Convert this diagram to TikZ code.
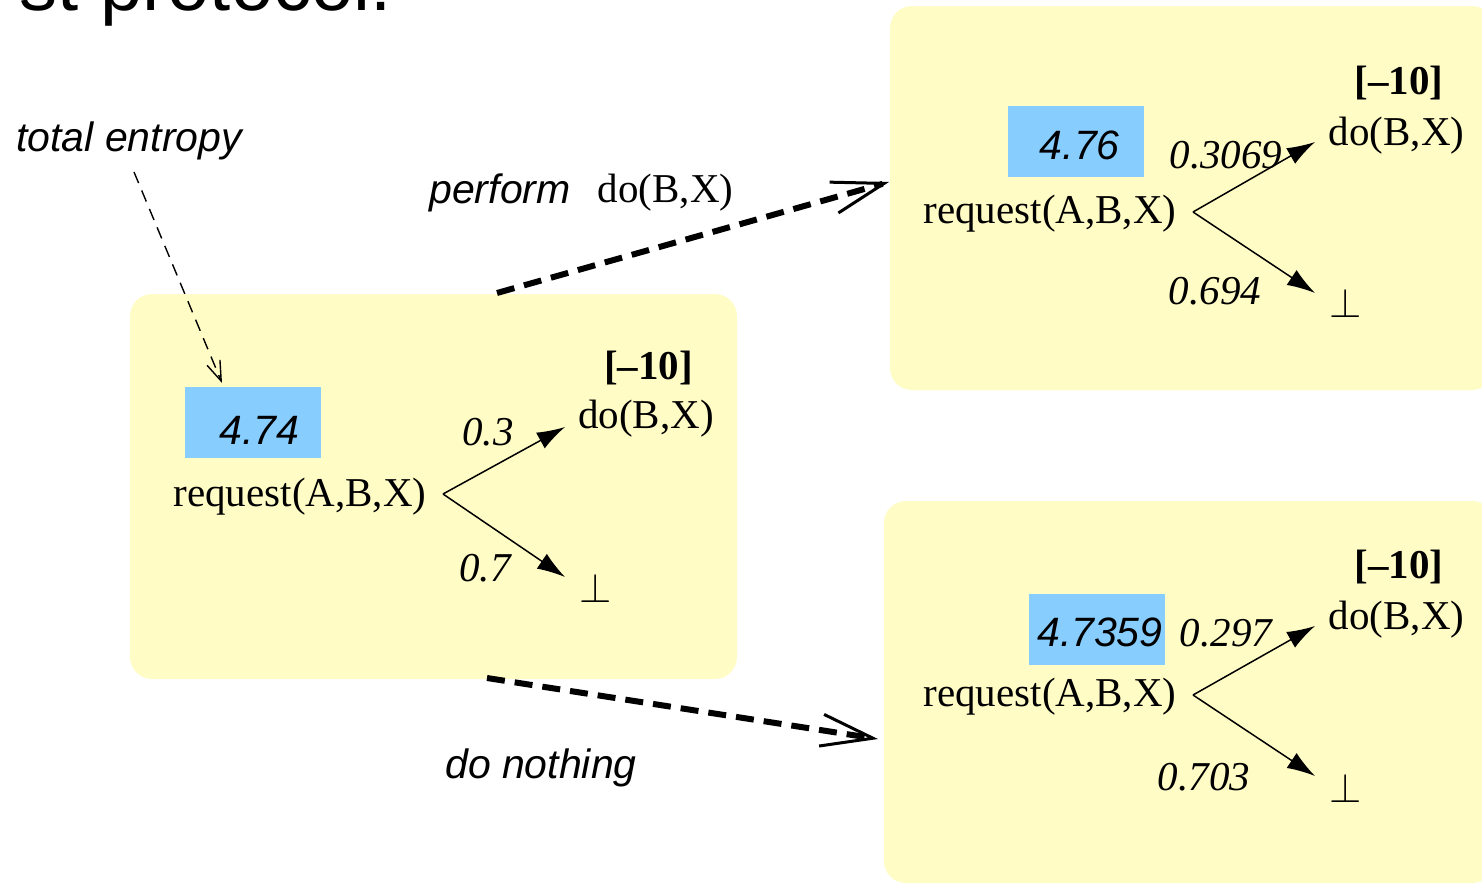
\documentclass[tikz,border=0pt]{standalone}
\usepackage{fontspec}
\setmainfont{Liberation Serif}
\setsansfont{Liberation Sans}
\usetikzlibrary{arrows.meta}
\definecolor{boxyellow}{RGB}{255,252,198}
\definecolor{valblue}{RGB}{135,206,255}
\tikzset{
  every node/.style={inner sep=0pt, font=\fontsize{20.5}{24}\selectfont},
  yellowbox/.style={fill=boxyellow, rounded corners=11pt},
  valbox/.style={fill=valblue, minimum width=68pt, minimum height=35.5pt},
  valtext/.style={font=\fontsize{20.5}{24}\selectfont\sffamily\itshape},
  prob/.style={font=\fontsize{20.5}{24}\selectfont\itshape},
  penalty/.style={font=\fontsize{20.5}{24}\selectfont\bfseries},
  branch/.style={line width=0.75pt, -{Latex[length=14pt,width=9pt]}},
  move/.style={line width=3pt, dash pattern=on 9pt off 5pt, -{Straight Barb[length=26pt,width=16pt,line width=1.5pt]}},
  note/.style={line width=0.7pt, dash pattern=on 6pt off 4pt, -{Straight Barb[length=10pt,width=7pt,line width=0.7pt]}},
  label/.style={font=\fontsize{20.5}{24}\selectfont\sffamily\itshape},
}
\begin{document}
\begin{tikzpicture}[x=0.5pt,y=-0.5pt]
\useasboundingbox (0,0) rectangle (1482,884);
\clip (0,0) rectangle (1482,884);

% title remnant (cut off at the top edge, as in the reference)
\node[anchor=base east, font=\fontsize{38}{40}\selectfont\sffamily] (title) at (392,10) {st protocol.};

% yellow boxes
\node[yellowbox, minimum width=303.5pt, minimum height=192.5pt] (L) at (433.5,486.5) {};
\node[yellowbox, minimum width=302pt, minimum height=192pt] (TR) at (1192,198) {};
\node[yellowbox, minimum width=305pt, minimum height=191pt] (BR) at (1189,692) {};

% value boxes
\node[valbox] (vb1) at (253,422) {};
\node[valbox] (vb2) at (1076,141.5) {};
\node[valbox] (vb3) at (1097,629.5) {};
\node[valtext, anchor=east] (v1t) at (300,430) {4.74};
\node[valtext, anchor=east] (v2t) at (1120,145) {4.76};
\node[valtext, anchor=east] (v3t) at (1163,632) {4.7359};

% left tree
\node (req1) at (300,497) {request(A,B,X)};
\node[penalty] (pen1) at (648.5,368) {[–10]};
\node (do1) at (646,419) {do(B,X)};
\node[prob] (p1a) at (488,432) {0.3};
\node[prob] (p1b) at (485,568) {0.7};
\node (bot1) at (596,588) {$\perp$};
\coordinate (v1) at (443,494);
\coordinate (t1a) at (565,427);
\coordinate (t1b) at (565,577);
\draw[branch] (v1) -- (t1a);
\draw[branch] (v1) -- (t1b);

% top-right tree
\node (req2) at (1050,214) {request(A,B,X)};
\node[penalty] (pen2) at (1399,83) {[–10]};
\node (do2) at (1396.5,136) {do(B,X)};
\node[prob] (p2a) at (1226,155) {0.3069};
\node[prob] (p2b) at (1215,291) {0.694};
\node (bot2) at (1346,303) {$\perp$};
\coordinate (v2) at (1193,212);
\coordinate (t2a) at (1315,142);
\coordinate (t2b) at (1315,293);
\draw[branch] (v2) -- (t2a);
\draw[branch] (v2) -- (t2b);

% bottom-right tree
\node (req3) at (1050,697) {request(A,B,X)};
\node[penalty] (pen3) at (1399,567) {[–10]};
\node (do3) at (1396.5,620) {do(B,X)};
\node[prob] (p3a) at (1226,633) {0.297};
\node[prob] (p3b) at (1204,777) {0.703};
\node (bot3) at (1346,788) {$\perp$};
\coordinate (v3) at (1193,695);
\coordinate (t3a) at (1315,626);
\coordinate (t3b) at (1315,776);
\draw[branch] (v3) -- (t3a);
\draw[branch] (v3) -- (t3b);

% outside labels
\node[label] (te) at (129,141) {total entropy};
\node[label] (perf) at (500,193) {perform};
\node (perfdo) at (665.5,193) {do(B,X)};
\node[label] (dn) at (541,768) {do nothing};

% connectors
\coordinate (te1) at (134,172);
\coordinate (te2) at (222,383);
\draw[note] (te1) -- (te2);
\coordinate (m1s) at (497,293);
\coordinate (m1e) at (889,182);
\draw[move] (m1s) -- (m1e);
\coordinate (m2s) at (487,678);
\coordinate (m2e) at (878,739);
\draw[move] (m2s) -- (m2e);
\end{tikzpicture}
\end{document}
